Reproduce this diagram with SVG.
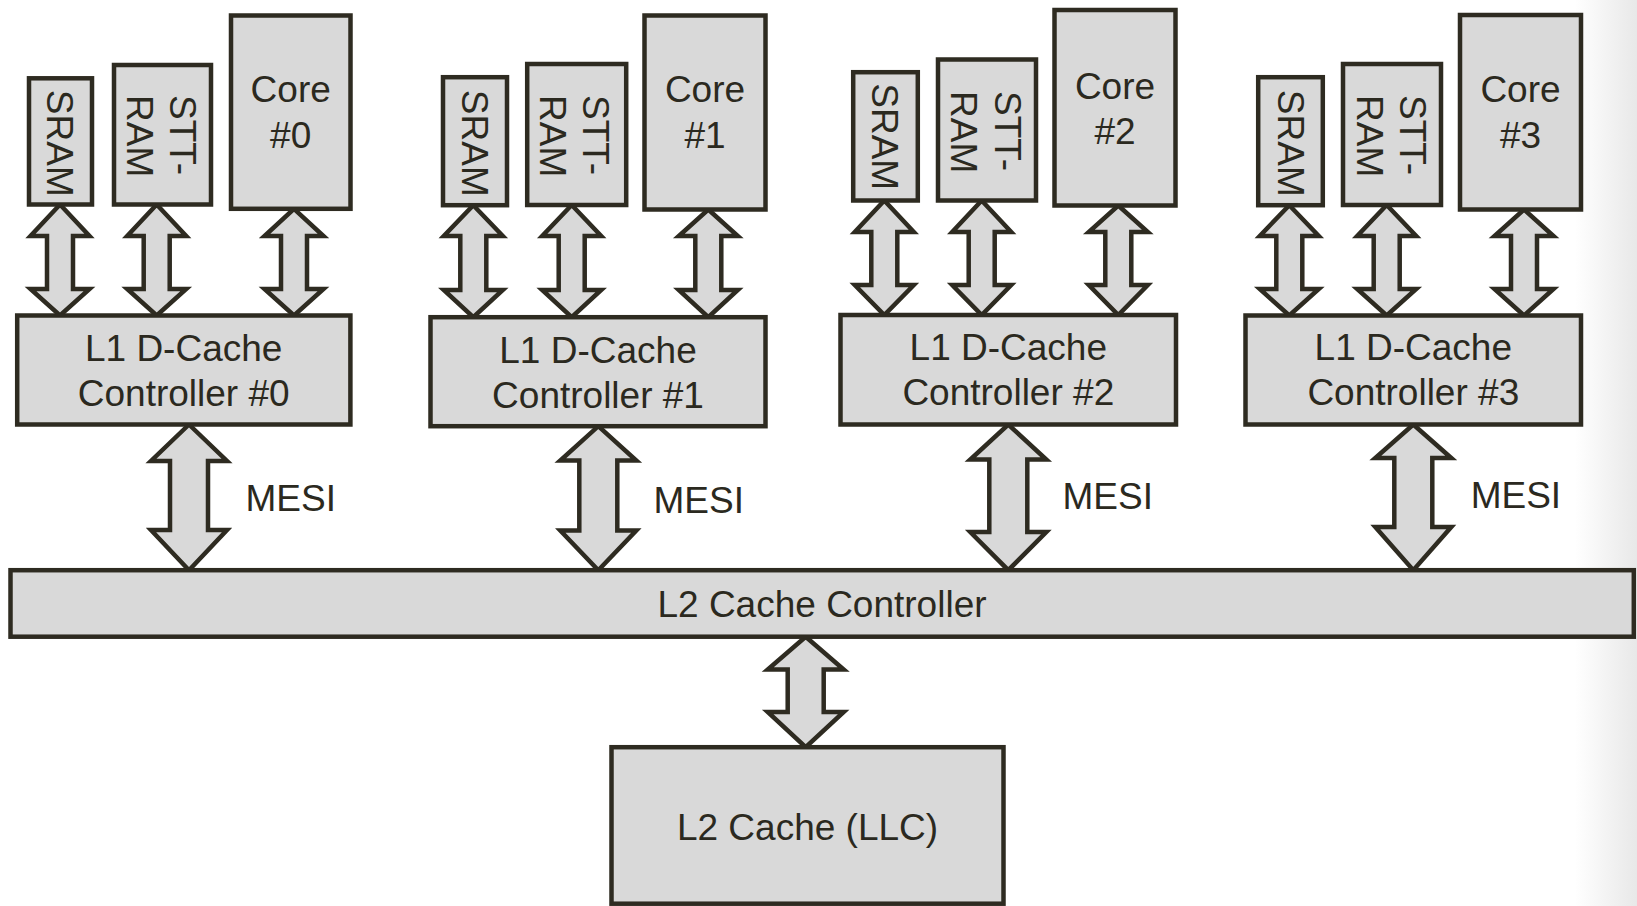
<svg xmlns="http://www.w3.org/2000/svg" width="1637" height="906" viewBox="0 0 1637 906">
<style>
.box{fill:#d9d9d9;stroke:#2e2b21;stroke-width:4.5;stroke-linejoin:miter}
.arr{fill:#d9d9d9;stroke:#2e2b21;stroke-width:4.5;stroke-linejoin:miter;stroke-miterlimit:10}
text{font-family:"Liberation Sans",Arial,sans-serif;font-size:37px;fill:#2b2920}
.c{text-anchor:middle}
</style>
<defs>
<linearGradient id="edge" gradientUnits="userSpaceOnUse" x1="1575" y1="0" x2="1637" y2="0">
<stop offset="0" stop-color="#ffffff"/>
<stop offset="1" stop-color="#e8e8e8"/>
</linearGradient>
</defs>
<rect x="0" y="0" width="1637" height="906" fill="#ffffff"/>
<rect x="1575" y="0" width="62" height="906" fill="url(#edge)"/>

<g id="connectors">
<!-- group 0 -->
<path class="arr" transform="translate(60 0)" d="M0 204.5 L29.5 236 L13 236 L13 289 L29.5 289 L0 315.5 L-29.5 289 L-13 289 L-13 236 L-29.5 236 Z"/>
<path class="arr" transform="translate(156.7 0)" d="M0 204.5 L29.5 236 L13 236 L13 289 L29.5 289 L0 315.5 L-29.5 289 L-13 289 L-13 236 L-29.5 236 Z"/>
<path class="arr" transform="translate(294 0)" d="M0 208.8 L29.5 236 L13 236 L13 289 L29.5 289 L0 315.5 L-29.5 289 L-13 289 L-13 236 L-29.5 236 Z"/>
<path class="arr" transform="translate(189 0)" d="M0 424.5 L38 461 L19 461 L19 530 L38 530 L0 570.2 L-38 530 L-19 530 L-19 461 L-38 461 Z"/>
<!-- group 1 -->
<path class="arr" transform="translate(473.3 0)" d="M0 205.2 L29.5 236 L13 236 L13 290 L29.5 290 L0 317.2 L-29.5 290 L-13 290 L-13 236 L-29.5 236 Z"/>
<path class="arr" transform="translate(571.7 0)" d="M0 205 L29.5 236 L13 236 L13 290 L29.5 290 L0 317.2 L-29.5 290 L-13 290 L-13 236 L-29.5 236 Z"/>
<path class="arr" transform="translate(708.3 0)" d="M0 209.5 L29.5 236 L13 236 L13 290 L29.5 290 L0 317.2 L-29.5 290 L-13 290 L-13 236 L-29.5 236 Z"/>
<path class="arr" transform="translate(598.3 0)" d="M0 426.2 L38 460.5 L19 460.5 L19 530.5 L38 530.5 L0 570.2 L-38 530.5 L-19 530.5 L-19 460.5 L-38 460.5 Z"/>
<!-- group 2 -->
<path class="arr" transform="translate(884.3 0)" d="M0 200.5 L29.5 232 L13 232 L13 285 L29.5 285 L0 315 L-29.5 285 L-13 285 L-13 232 L-29.5 232 Z"/>
<path class="arr" transform="translate(981.7 0)" d="M0 200.5 L29.5 232 L13 232 L13 285 L29.5 285 L0 315 L-29.5 285 L-13 285 L-13 232 L-29.5 232 Z"/>
<path class="arr" transform="translate(1118.3 0)" d="M0 205.5 L29.5 232 L13 232 L13 285 L29.5 285 L0 315 L-29.5 285 L-13 285 L-13 232 L-29.5 232 Z"/>
<path class="arr" transform="translate(1008.3 0)" d="M0 424.5 L38 459.5 L19 459.5 L19 532 L38 532 L0 570.2 L-38 532 L-19 532 L-19 459.5 L-38 459.5 Z"/>
<!-- group 3 -->
<path class="arr" transform="translate(1289.3 0)" d="M0 205.2 L29.5 236 L13 236 L13 289 L29.5 289 L0 315.5 L-29.5 289 L-13 289 L-13 236 L-29.5 236 Z"/>
<path class="arr" transform="translate(1386.7 0)" d="M0 205 L29.5 236 L13 236 L13 289 L29.5 289 L0 315.5 L-29.5 289 L-13 289 L-13 236 L-29.5 236 Z"/>
<path class="arr" transform="translate(1524 0)" d="M0 209.5 L29.5 236 L13 236 L13 289 L29.5 289 L0 315.5 L-29.5 289 L-13 289 L-13 236 L-29.5 236 Z"/>
<path class="arr" transform="translate(1413.3 0)" d="M0 424.5 L38 458 L19 458 L19 527 L38 527 L0 570.2 L-38 527 L-19 527 L-19 458 L-38 458 Z"/>
<!-- L2 to LLC -->
<path class="arr" transform="translate(805.7 0)" d="M0 636.7 L38 669.5 L18 669.5 L18 712 L38 712 L0 747.2 L-38 712 L-18 712 L-18 669.5 L-38 669.5 Z"/>
<text x="245.5" y="510.7">MESI</text>
<text x="653.5" y="512.7">MESI</text>
<text x="1062.5" y="509.3">MESI</text>
<text x="1470.7" y="508.3">MESI</text>
</g>

<!-- group 0 -->
<g id="sram0"><rect class="box" x="29" y="78.3" width="63" height="126.2"/><text class="c" transform="translate(47 143.3) rotate(90)">SRAM</text></g>
<g id="sttram0"><rect class="box" x="114" y="65" width="97" height="139.5"/><text transform="translate(170 95) rotate(90)">STT-</text><text transform="translate(126.7 95) rotate(90)">RAM</text></g>
<g id="core0"><rect class="box" x="231" y="15.5" width="119.5" height="193.3"/><text class="c" x="290.7" y="101.7">Core</text><text class="c" x="290.7" y="148.3">#0</text></g>
<g id="l1ctrl0"><rect class="box" x="17.2" y="315.5" width="333.2" height="109"/><text class="c" x="183.7" y="360.7">L1 D-Cache</text><text class="c" x="183.7" y="406">Controller #0</text></g>

<!-- group 1 -->
<g id="sram1"><rect class="box" x="443" y="77.2" width="64" height="128"/><text class="c" transform="translate(461.7 143.3) rotate(90)">SRAM</text></g>
<g id="sttram1"><rect class="box" x="527.2" y="64" width="99" height="141"/><text transform="translate(583.3 95) rotate(90)">STT-</text><text transform="translate(540 95) rotate(90)">RAM</text></g>
<g id="core1"><rect class="box" x="644.5" y="15.5" width="121" height="194"/><text class="c" x="705" y="101.7">Core</text><text class="c" x="705" y="148.3">#1</text></g>
<g id="l1ctrl1"><rect class="box" x="430.5" y="317.2" width="335" height="109"/><text class="c" x="598" y="362.7">L1 D-Cache</text><text class="c" x="598" y="408.3">Controller #1</text></g>

<!-- group 2 -->
<g id="sram2"><rect class="box" x="853.2" y="72.2" width="64.6" height="128.3"/><text class="c" transform="translate(872.3 136.7) rotate(90)">SRAM</text></g>
<g id="sttram2"><rect class="box" x="938" y="59.5" width="98" height="141"/><text transform="translate(995 91) rotate(90)">STT-</text><text transform="translate(951 91) rotate(90)">RAM</text></g>
<g id="core2"><rect class="box" x="1054.5" y="10" width="121" height="195.5"/><text class="c" x="1115" y="98.5">Core</text><text class="c" x="1115" y="143.5">#2</text></g>
<g id="l1ctrl2"><rect class="box" x="840.5" y="315" width="335.5" height="109.5"/><text class="c" x="1008.3" y="360">L1 D-Cache</text><text class="c" x="1008.3" y="405">Controller #2</text></g>

<!-- group 3 -->
<g id="sram3"><rect class="box" x="1258.2" y="77.2" width="64.6" height="128"/><text class="c" transform="translate(1277.7 143.3) rotate(90)">SRAM</text></g>
<g id="sttram3"><rect class="box" x="1343" y="64" width="98" height="141"/><text transform="translate(1400 95) rotate(90)">STT-</text><text transform="translate(1356.7 95) rotate(90)">RAM</text></g>
<g id="core3"><rect class="box" x="1460" y="15" width="121" height="194.5"/><text class="c" x="1520.5" y="101.7">Core</text><text class="c" x="1520.5" y="148.3">#3</text></g>
<g id="l1ctrl3"><rect class="box" x="1245.5" y="315.5" width="335.5" height="109"/><text class="c" x="1413.3" y="360">L1 D-Cache</text><text class="c" x="1413.3" y="405">Controller #3</text></g>

<g id="l2ctrl"><rect class="box" x="10.5" y="570.2" width="1623.3" height="66.5"/><text class="c" x="822" y="617.3">L2 Cache Controller</text></g>
<g id="llc"><rect class="box" x="611.5" y="747.2" width="392" height="156.5"/><text class="c" x="807.5" y="840">L2 Cache (LLC)</text></g>
</svg>
